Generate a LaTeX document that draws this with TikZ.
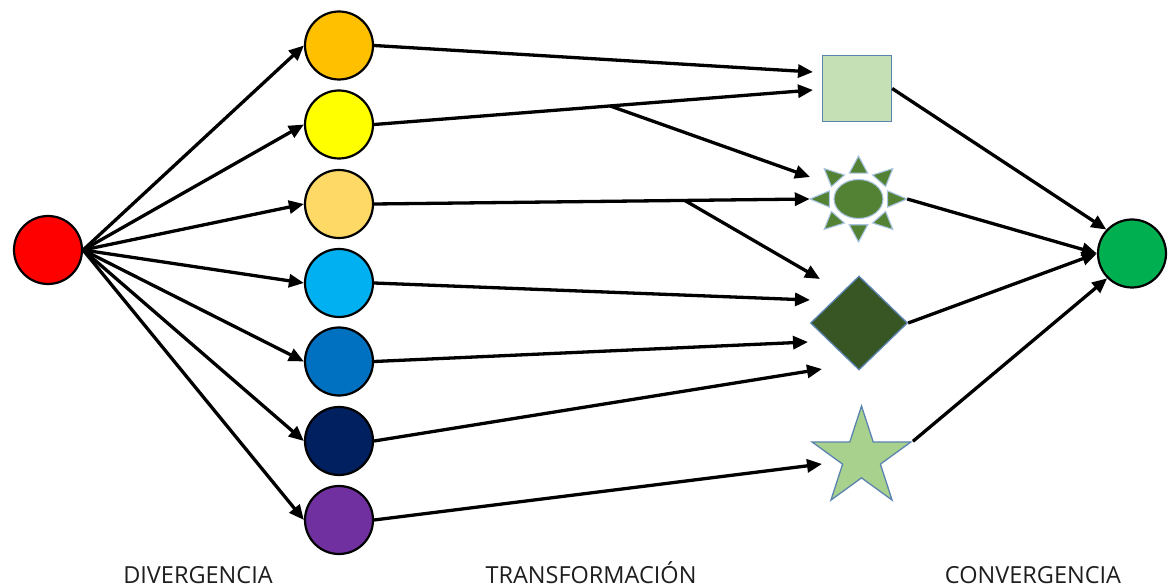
\documentclass[tikz,border=0pt]{standalone}
\usepackage{fontspec}
\setmainfont{Open Sans}
\usetikzlibrary{arrows.meta,shapes.geometric,calc}
\definecolor{cred}{HTML}{FF0000}
\definecolor{corange}{HTML}{FFC000}
\definecolor{cyellow}{HTML}{FFFF00}
\definecolor{clorange}{HTML}{FFD966}
\definecolor{clblue}{HTML}{00B0F0}
\definecolor{cblue}{HTML}{0070C0}
\definecolor{cnavy}{HTML}{002060}
\definecolor{cpurple}{HTML}{7030A0}
\definecolor{cgreen}{HTML}{00B050}
\definecolor{csq}{HTML}{C5E0B4}
\definecolor{csun}{HTML}{548235}
\definecolor{cdia}{HTML}{375623}
\definecolor{cstar}{HTML}{A9D18E}
\definecolor{shpline}{HTML}{5B83B0}
\definecolor{sunline}{HTML}{A9C4E0}
\definecolor{lbltext}{HTML}{1E1E1E}
\begin{document}
\begin{tikzpicture}[x=1pt,y=-1pt,
  dot/.style={circle,draw=black,line width=2.2pt,minimum size=68pt,inner sep=0pt},
  arr/.style={line width=3.3pt,-{Triangle[length=15pt,width=13pt]}},
  lbl/.style={font=\fontsize{23.5}{26}\selectfont,text=lbltext,anchor=base,inner sep=0pt},
  shp/.style={draw=shpline,line width=1.3pt,inner sep=0pt},
  sunray/.style={draw=sunline,line width=1.1pt,fill=csun}
]
\useasboundingbox (0,0) rectangle (1168,588);

% left / middle circles
\node[dot,fill=cred] (r) at (48,250) {};
\node[dot,fill=corange] (c1) at (339,45.5) {};
\node[dot,fill=cyellow] (c2) at (339,124.5) {};
\node[dot,fill=clorange] (c3) at (339,204) {};
\node[dot,fill=clblue] (c4) at (339,283) {};
\node[dot,fill=cblue] (c5) at (339,361.5) {};
\node[dot,fill=cnavy] (c6) at (339,441) {};
\node[dot,fill=cpurple] (c7) at (339,520) {};
\node[dot,fill=cgreen] (g) at (1132,253.5) {};

% shapes
\node[shp,rectangle,fill=csq,minimum width=69pt,minimum height=66pt] (sq) at (857,88.5) {};
\node[shp,diamond,fill=cdia,minimum width=97pt,minimum height=94pt] (dm) at (859,323) {};
\node[shp,star,star points=5,star point ratio=2.618,minimum size=104pt,fill=cstar] (st) at (861.5,458) {};
\node[inner sep=0pt,minimum width=97pt,minimum height=86pt] (sun) at (858.5,199) {};
\begin{scope}[shift={(sun.center)},x=48.5pt,y=43pt]
  \foreach \a in {0,45,...,315}
    \draw[sunray] (\a:1) -- ($(\a:0.6)+(\a+90:0.19)$) -- ($(\a:0.6)+(\a-90:0.19)$) -- cycle;
  \draw[sunray] (0,0) ellipse [x radius=24.5pt,y radius=19.5pt];
\end{scope}

% divergence arrows
\foreach \i in {1,...,7}
  \draw[arr] (r.east) -- (c\i.west);

% transformation arrows
\coordinate (t1) at (813,72);
\coordinate (t2) at (813,90);
\coordinate (t2b) at (810,177);
\coordinate (t3b) at (820,279);
\coordinate (t4) at (810,300);
\coordinate (t5) at (808,342);
\coordinate (t6) at (822,369);
\coordinate (t7) at (822,464);
\draw[arr] (c1.east) -- (t1);
\draw[arr] (c2.east) -- (t2);
\coordinate (b2) at ($(c2.east)!0.5376!(t2)$);
\draw[arr] (b2) -- (t2b);
\draw[arr] (c3.east) -- (sun.west);
\coordinate (b3) at ($(c3.east)!0.713!(sun.west)$);
\draw[arr] (b3) -- (t3b);
\draw[arr] (c4.east) -- (t4);
\draw[arr] (c5.east) -- (t5);
\draw[arr] (c6.east) -- (t6);
\draw[arr] (c7.east) -- (t7);

% convergence arrows
\draw[arr] (sq.east) -- (g.137);
\draw[arr] (sun.east) -- (g.west);
\draw[arr] (dm.east) -- (g.west);
\draw[arr] (st.outer point 5) -- (g.225);

% labels
\node[lbl] (l1) at (198,583) {DIVERGENCIA};
\node[lbl] (l2) at (591,583) {TRANSFORMACIÓN};
\node[lbl] (l3) at (1033,583) {CONVERGENCIA};
\end{tikzpicture}
\end{document}
